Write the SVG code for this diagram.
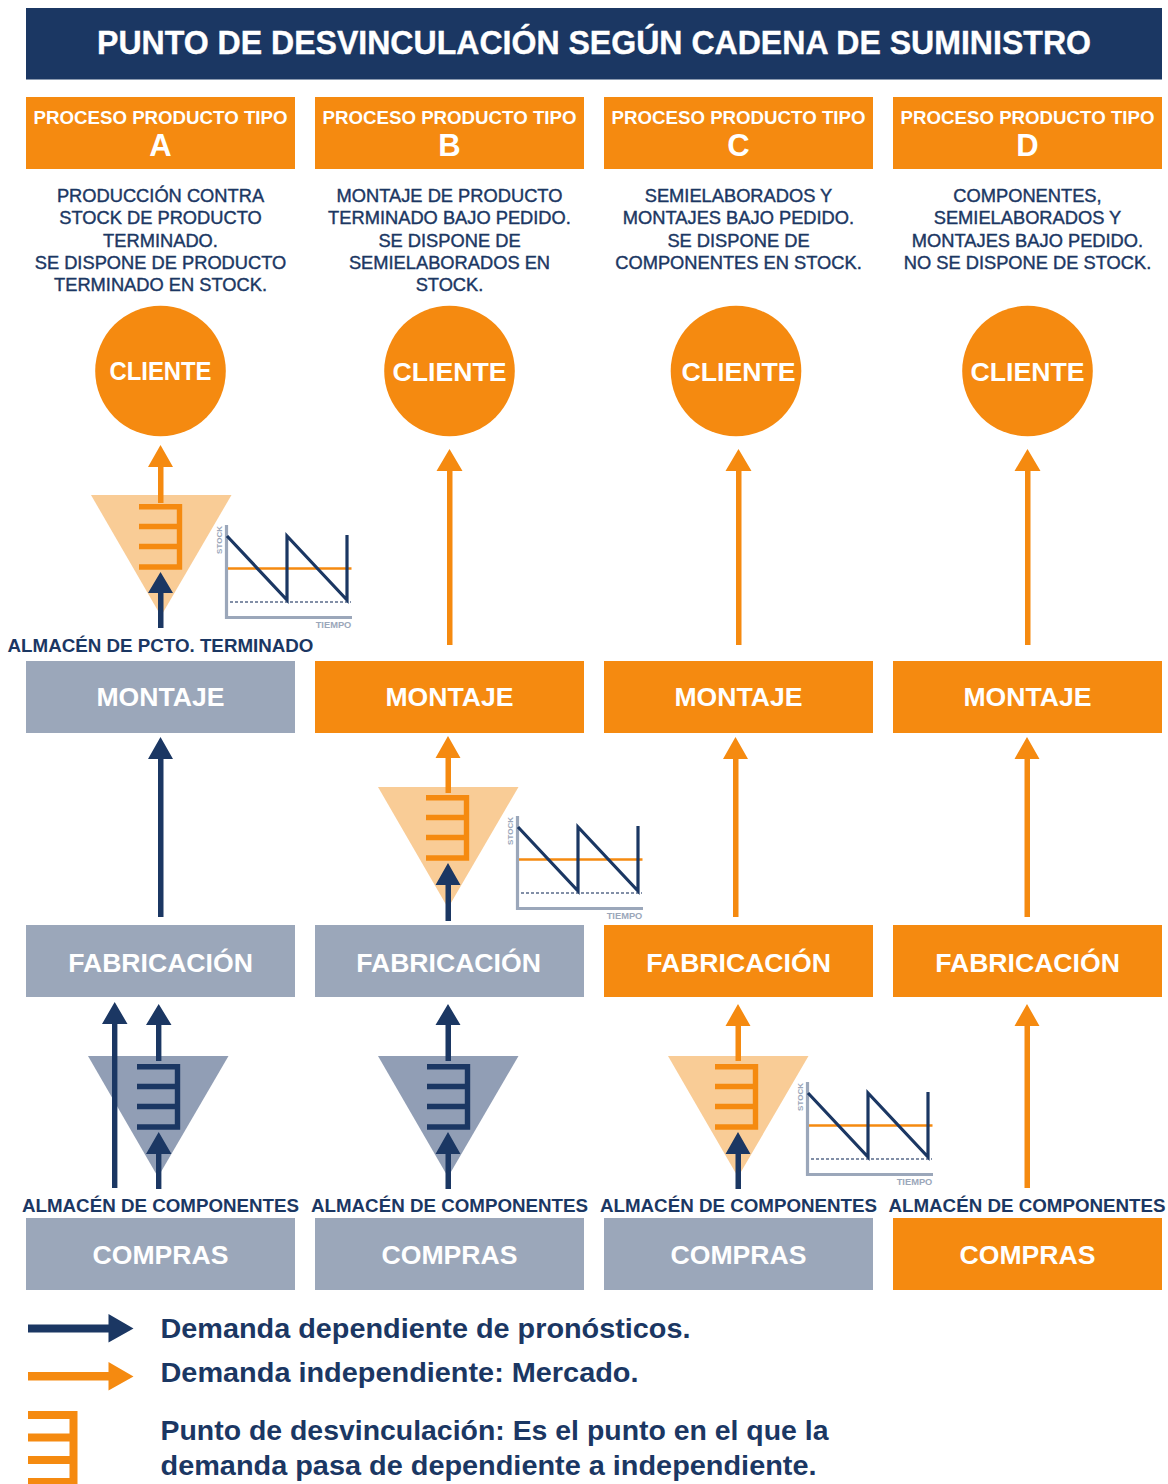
<svg xmlns="http://www.w3.org/2000/svg" width="1168" height="1484" viewBox="0 0 1168 1484">
<style>
text{font-family:"Liberation Sans",Arial,sans-serif;font-weight:700;text-anchor:middle}
.o{fill:#f58a10}.g{fill:#9ba7ba}.n{fill:#1b3763}
.w{fill:#fff;font-size:26.600px}
.hd{fill:#fff;font-size:19px}
.hl{fill:#fff;font-size:31px}
.d{fill:#1b3763;font-size:18.300px;font-weight:400;stroke:#1b3763;stroke-width:.4px}
.al{fill:#1b3763;font-size:18.750px}
.lg{fill:#1b3763;font-size:28px;text-anchor:start}
.ax{fill:#9ba7ba;font-size:9.300px}
.ay{fill:#9ba7ba;font-size:8px}
</style>
<defs>
<g id="combO" fill="none" stroke="#f58a10" stroke-width="5.400"><path d="M0 2.700H40.500V63H0M0 22.500H40.500M0 42.500H40.500"/></g>
<g id="combN" fill="none" stroke="#1b3763" stroke-width="5.400"><path d="M0 2.700H40.500V63H0M0 22.500H40.500M0 42.500H40.500"/></g>
<g id="chart">
<path d="M226.500 525V617.500H352" fill="none" stroke="#9ba7ba" stroke-width="3.200"/>
<path d="M228 568.500H351.500" stroke="#f58a10" stroke-width="2.400" fill="none"/>
<path d="M230 602H351" stroke="#5a6b8a" stroke-width="1.300" stroke-dasharray="3 2" fill="none"/>
<path d="M227 536L287 600V536L347 600V535" fill="none" stroke="#1b3763" stroke-width="3.200"/>
<text class="ay" transform="translate(222,540) rotate(-90)">STOCK</text>
<text class="ax" x="333.500" y="628">TIEMPO</text>
</g>
</defs>
<rect id="title-bar" x="26" y="8" width="1136" height="71.500" class="n"/>
<text x="594" y="54" fill="#fff" font-size="33.500" stroke="#fff" stroke-width=".4" textLength="994" lengthAdjust="spacingAndGlyphs">PUNTO DE DESVINCULACIÓN SEGÚN CADENA DE SUMINISTRO</text>

<g id="header-a"><rect x="26" y="97" width="269" height="72" class="o"/><text class="hd" x="160.500" y="124" textLength="254" lengthAdjust="spacingAndGlyphs">PROCESO PRODUCTO TIPO</text><text class="hl" x="160.500" y="156">A</text></g>
<g id="header-b"><rect x="315" y="97" width="269" height="72" class="o"/><text class="hd" x="449.500" y="124" textLength="254" lengthAdjust="spacingAndGlyphs">PROCESO PRODUCTO TIPO</text><text class="hl" x="449.500" y="156">B</text></g>
<g id="header-c"><rect x="604" y="97" width="269" height="72" class="o"/><text class="hd" x="738.500" y="124" textLength="254" lengthAdjust="spacingAndGlyphs">PROCESO PRODUCTO TIPO</text><text class="hl" x="738.500" y="156">C</text></g>
<g id="header-d"><rect x="893" y="97" width="269" height="72" class="o"/><text class="hd" x="1027.500" y="124" textLength="254" lengthAdjust="spacingAndGlyphs">PROCESO PRODUCTO TIPO</text><text class="hl" x="1027.500" y="156">D</text></g>

<g id="desc-a">
<text class="d" x="160.500" y="202">PRODUCCIÓN CONTRA</text><text class="d" x="160.500" y="224">STOCK DE PRODUCTO</text><text class="d" x="160.500" y="246.500">TERMINADO.</text><text class="d" x="160.500" y="268.500">SE DISPONE DE PRODUCTO</text><text class="d" x="160.500" y="291">TERMINADO EN STOCK.</text></g>
<g id="desc-b">
<text class="d" x="449.500" y="202">MONTAJE DE PRODUCTO</text><text class="d" x="449.500" y="224">TERMINADO BAJO PEDIDO.</text><text class="d" x="449.500" y="246.500">SE DISPONE DE</text><text class="d" x="449.500" y="268.500">SEMIELABORADOS EN</text><text class="d" x="449.500" y="291">STOCK.</text></g>
<g id="desc-c">
<text class="d" x="738.500" y="202">SEMIELABORADOS Y</text><text class="d" x="738.500" y="224">MONTAJES BAJO PEDIDO.</text><text class="d" x="738.500" y="246.500">SE DISPONE DE</text><text class="d" x="738.500" y="268.500">COMPONENTES EN STOCK.</text></g>
<g id="desc-d">
<text class="d" x="1027.500" y="202">COMPONENTES,</text><text class="d" x="1027.500" y="224">SEMIELABORADOS Y</text><text class="d" x="1027.500" y="246.500">MONTAJES BAJO PEDIDO.</text><text class="d" x="1027.500" y="268.500">NO SE DISPONE DE STOCK.</text></g>

<g id="cliente-a"><circle cx="160.500" cy="371" r="65.300" class="o"/><text x="160.500" y="380" fill="#fff" font-size="25" textLength="102" lengthAdjust="spacingAndGlyphs">CLIENTE</text></g>
<g id="cliente-b"><circle cx="449.500" cy="371" r="65.300" class="o"/><text class="w" x="449.500" y="381" textLength="114" lengthAdjust="spacingAndGlyphs">CLIENTE</text></g>
<g id="cliente-c"><circle cx="736" cy="371" r="65.300" class="o"/><text class="w" x="738.500" y="381" textLength="114" lengthAdjust="spacingAndGlyphs">CLIENTE</text></g>
<g id="cliente-d"><circle cx="1027.500" cy="371" r="65.300" class="o"/><text class="w" x="1027.500" y="381" textLength="114" lengthAdjust="spacingAndGlyphs">CLIENTE</text></g>

<g id="montaje-a"><rect x="26" y="661" width="269" height="72" class="g"/><text class="w" x="160.500" y="706">MONTAJE</text></g>
<g id="montaje-b"><rect x="315" y="661" width="269" height="72" class="o"/><text class="w" x="449.500" y="706">MONTAJE</text></g>
<g id="montaje-c"><rect x="604" y="661" width="269" height="72" class="o"/><text class="w" x="738.500" y="706">MONTAJE</text></g>
<g id="montaje-d"><rect x="893" y="661" width="269" height="72" class="o"/><text class="w" x="1027.500" y="706">MONTAJE</text></g>

<g id="fabricacion-a"><rect x="26" y="925" width="269" height="72" class="g"/><text class="w" x="160.500" y="972">FABRICACIÓN</text></g>
<g id="fabricacion-b"><rect x="315" y="925" width="269" height="72" class="g"/><text class="w" x="448.500" y="972">FABRICACIÓN</text></g>
<g id="fabricacion-c"><rect x="604" y="925" width="269" height="72" class="o"/><text class="w" x="738.500" y="972">FABRICACIÓN</text></g>
<g id="fabricacion-d"><rect x="893" y="925" width="269" height="72" class="o"/><text class="w" x="1027.500" y="972">FABRICACIÓN</text></g>

<g id="compras-a"><rect x="26" y="1218" width="269" height="72" class="g"/><text class="w" x="160.500" y="1263.500">COMPRAS</text></g>
<g id="compras-b"><rect x="315" y="1218" width="269" height="72" class="g"/><text class="w" x="449.500" y="1263.500">COMPRAS</text></g>
<g id="compras-c"><rect x="604" y="1218" width="269" height="72" class="g"/><text class="w" x="738.500" y="1263.500">COMPRAS</text></g>
<g id="compras-d"><rect x="893" y="1218" width="269" height="72" class="o"/><text class="w" x="1027.500" y="1263.500">COMPRAS</text></g>

<g id="stock-a"><path d="M91 495H231.500L161 616Z" fill="#f9cc96"/><use href="#combO" x="139" y="504"/><use href="#chart"/></g>
<g id="stock-b"><path d="M378 787H518.500L448 908Z" fill="#f9cc96"/><use href="#combO" x="426" y="795"/><use href="#chart" x="291" y="291"/></g>
<g id="stock-c"><path d="M668 1056H808.500L738 1177Z" fill="#f9cc96"/><use href="#combO" x="715" y="1064"/><use href="#chart" x="581" y="557"/></g>
<g id="stock-comp-a"><path d="M88 1056H228.500L158 1177Z" fill="#919eb5"/><use href="#combN" x="137" y="1064"/></g>
<g id="stock-comp-b"><path d="M378 1056H518.500L448 1177Z" fill="#919eb5"/><use href="#combN" x="427" y="1064"/></g>

<g id="labels">
<text class="al" x="160.500" y="651.500">ALMACÉN DE PCTO. TERMINADO</text>
<text class="al" x="160.500" y="1211.500">ALMACÉN DE COMPONENTES</text>
<text class="al" x="449.500" y="1211.500">ALMACÉN DE COMPONENTES</text>
<text class="al" x="738.500" y="1211.500">ALMACÉN DE COMPONENTES</text>
<text class="al" x="1027" y="1211.500">ALMACÉN DE COMPONENTES</text>
</g>

<g id="connectors">
<g class="o">
<path d="M158 503V467H148L160.500 445 173 467H163.500V503Z"/>
<path d="M447 645V471H436.500L449.500 449 462.500 471H452.500V645Z"/>
<path d="M736 645V471H725.500L738.500 449 751.500 471H741.500V645Z"/>
<path d="M1025 645V471H1014.500L1027.500 449 1040.500 471H1030.500V645Z"/>
<path d="M445.500 793V758H435.500L448 736 460.500 758H451V793Z"/>
<path d="M733 917V759H723L735.500 737 748 759H738.500V917Z"/>
<path d="M1024.500 917V759H1014.500L1027 737 1039.500 759H1030V917Z"/>
<path d="M735.500 1061V1026H725.500L738 1004 750.500 1026H741V1061Z"/>
<path d="M1024.500 1188V1026H1014.500L1027 1004 1039.500 1026H1030V1188Z"/>
</g>
<g class="n">
<path d="M158 628V593H148L160.500 572 173 593H163.500V628Z"/>
<path d="M158 917V759H148L160.500 737 173 759H163.500V917Z"/>
<path d="M445.500 921V885H435.500L448 863 460.500 885H451V921Z"/>
<path d="M112 1188V1024H102L114.700 1002 127.500 1024H117.400V1188Z"/>
<path d="M156 1061V1025H146L158.700 1004 171.500 1025H161.400V1061Z"/>
<path d="M156 1189V1154H146L158.700 1132 171.500 1154H161.400V1189Z"/>
<path d="M445.500 1061V1025H435.500L448 1004 460.500 1025H451V1061Z"/>
<path d="M445.500 1189V1154H435.500L448 1132 460.500 1154H451V1189Z"/>
<path d="M735.500 1189V1154H725.500L738 1132 750.500 1154H741V1189Z"/>
</g>
</g>

<g id="legend">
<path class="n" d="M28 1324.500H108.500V1314L133.500 1328.500 108.500 1342.500V1332.500H28Z"/>
<path class="o" d="M28 1372H108.500V1362L133.500 1376.500 108.500 1390.500V1380.500H28Z"/>
<path d="M28 1415H73.500V1484M28 1437.500H73.500M28 1460H73.500M28 1482H73.500" fill="none" stroke="#f58a10" stroke-width="8"/>
<text class="lg" x="160.500" y="1338" textLength="530" lengthAdjust="spacingAndGlyphs">Demanda dependiente de pronósticos.</text>
<text class="lg" x="160.500" y="1382" textLength="478" lengthAdjust="spacingAndGlyphs">Demanda independiente: Mercado.</text>
<text class="lg" x="160.500" y="1440" textLength="668" lengthAdjust="spacingAndGlyphs">Punto de desvinculación: Es el punto en el que la</text>
<text class="lg" x="160.500" y="1475" textLength="656" lengthAdjust="spacingAndGlyphs">demanda pasa de dependiente a independiente.</text>
</g>
</svg>
